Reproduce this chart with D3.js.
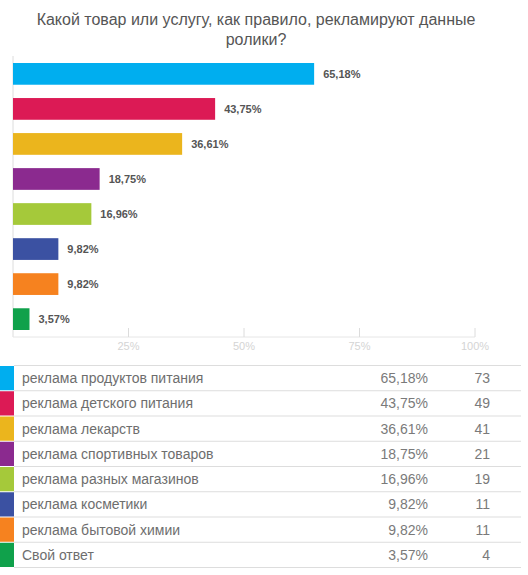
<!DOCTYPE html>
<html>
<head>
<meta charset="utf-8">
<script src="https://cdn.jsdelivr.net/npm/d3@7"></script>
<style>
  body { margin: 0; background: #fff; }
  svg { display: block; font-family: Arial, "Liberation Sans", sans-serif; }
</style>
</head>
<body>
<svg id="chart" width="528" height="575"></svg>
<script>
const titleLines = ['Какой товар или услугу, как правило, рекламируют данные', 'ролики?'];
const categories = [
    'реклама продуктов питания',
    'реклама детского питания',
    'реклама лекарств',
    'реклама спортивных товаров',
    'реклама разных магазинов',
    'реклама косметики',
    'реклама бытовой химии',
    'Свой ответ'
];
const percents = [65.18, 43.75, 36.61, 18.75, 16.96, 9.82, 9.82, 3.57];
const counts = [73, 49, 41, 21, 19, 11, 11, 4];
const colors = ['#00aeef', '#dc1a55', '#ebb51d', '#8b2a8f', '#a5c93a', '#3b51a2', '#f6821f', '#10a14b'];
const ticks = [25, 50, 75, 100];

const svg = d3.select('#chart');
const fmt = (v) => v.toFixed(2).replace('.', ',') + '%';

// title
svg.selectAll('.title').data(titleLines).enter().append('text')
    .attr('class', 'title')
    .attr('x', 256)
    .attr('y', (d, i) => 25 + i * 20)
    .attr('text-anchor', 'middle')
    .attr('font-size', 16)
    .attr('fill', '#555')
    .text((d) => d);

// scales
const x = d3.scaleLinear().domain([0, 100]).range([13, 475]);
const y = d3.scaleBand().domain(categories).range([56, 337]).paddingInner(0.38).paddingOuter(0.2);

// axis lines and ticks
const axis = svg.append('g');
axis.append('line')
    .attr('x1', x(0)).attr('x2', x(0))
    .attr('y1', 56).attr('y2', 337)
    .attr('stroke', '#dcdcdc');
axis.append('line')
    .attr('x1', x(0)).attr('x2', x(100))
    .attr('y1', 337).attr('y2', 337)
    .attr('stroke', '#e6e6e6');
axis.selectAll('.tick').data(ticks).enter().append('line')
    .attr('x1', (d) => x(d)).attr('x2', (d) => x(d))
    .attr('y1', 328).attr('y2', 337)
    .attr('stroke', '#dcdcdc');
axis.selectAll('.tickLabel').data(ticks).enter().append('text')
    .attr('x', (d) => x(d))
    .attr('y', 350)
    .attr('text-anchor', 'middle')
    .attr('font-size', 11)
    .attr('fill', '#d4d4d4')
    .text((d) => d + '%');

// bars
svg.selectAll('.bar').data(percents).enter().append('rect')
    .attr('class', 'bar')
    .attr('x', x(0))
    .attr('y', (d, i) => y(categories[i]))
    .attr('width', (d) => x(d) - x(0))
    .attr('height', y.bandwidth())
    .attr('fill', (d, i) => colors[i]);

svg.selectAll('.barLabel').data(percents).enter().append('text')
    .attr('x', (d) => x(d) + 9)
    .attr('y', (d, i) => y(categories[i]) + y.bandwidth() / 2 + 4)
    .attr('font-size', 11)
    .attr('font-weight', 'bold')
    .attr('fill', '#555')
    .text((d) => fmt(d));

// table
const rowY = d3.scaleBand().domain(categories).range([365, 567]);
const rows = svg.selectAll('.row').data(categories).enter().append('g')
    .attr('class', 'row')
    .attr('transform', (d) => 'translate(0,' + rowY(d) + ')');

rows.append('line')
    .attr('x1', 14).attr('x2', 521)
    .attr('y1', 0.5).attr('y2', 0.5)
    .attr('stroke', '#dddddd');
rows.append('rect')
    .attr('x', 0).attr('y', 1)
    .attr('width', 14).attr('height', rowY.bandwidth() - 1)
    .attr('fill', (d, i) => colors[i]);
rows.append('text')
    .attr('x', 22)
    .attr('y', rowY.bandwidth() / 2 + 5.5)
    .attr('font-size', 14)
    .attr('fill', '#6e6e6e')
    .text((d) => d);
rows.append('text')
    .attr('x', 428)
    .attr('y', rowY.bandwidth() / 2 + 5.5)
    .attr('text-anchor', 'end')
    .attr('font-size', 14)
    .attr('fill', '#7a7a7a')
    .text((d, i) => fmt(percents[i]));
rows.append('text')
    .attr('x', 490)
    .attr('y', rowY.bandwidth() / 2 + 5.5)
    .attr('text-anchor', 'end')
    .attr('font-size', 14)
    .attr('fill', '#7a7a7a')
    .text((d, i) => counts[i]);

svg.append('line')
    .attr('x1', 14).attr('x2', 521)
    .attr('y1', 567.5).attr('y2', 567.5)
    .attr('stroke', '#dddddd');
</script>
</body>
</html>
